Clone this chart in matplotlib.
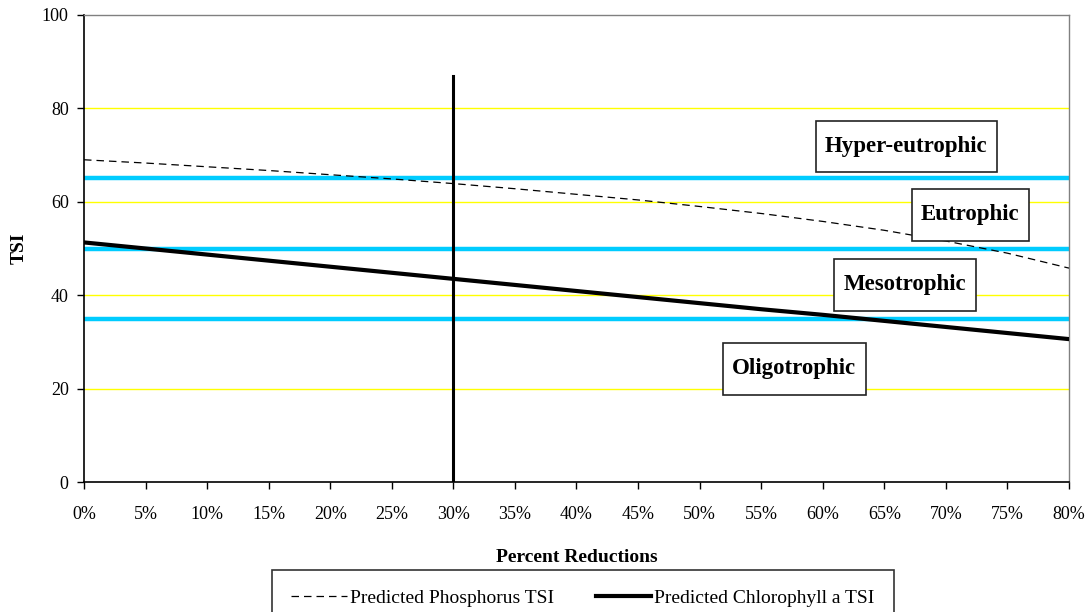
import matplotlib
matplotlib.use("Agg")
import matplotlib.pyplot as plt
from matplotlib.path import Path
from matplotlib.ticker import FuncFormatter, MultipleLocator

plt.rcParams['font.family'] = ['Liberation Serif', 'DejaVu Serif']

reductions = [0, 5, 10, 15, 20, 25, 30, 35, 40, 45, 50, 55, 60, 65, 70, 75, 80]
phosphorus_tsi = [69.0, 68.3, 67.5, 66.7, 65.8, 64.9, 63.9, 62.8, 61.6, 60.4, 59.0,
                  57.5, 55.8, 53.9, 51.6, 49.0, 45.8]
chlorophyll_tsi = [51.3, 50.0, 48.7, 47.4, 46.1, 44.8, 43.5, 42.2, 40.9, 39.6, 38.3,
                   37.0, 35.8, 34.5, 33.2, 31.9, 30.6]
class_bounds = [35, 50, 65]
target_reduction = 30
target_line_top = 87
class_labels = ["Hyper-eutrophic", "Eutrophic", "Mesotrophic", "Oligotrophic"]
class_label_x = [66.8, 72.0, 66.7, 57.7]
class_label_y = [71.8, 57.2, 42.2, 24.2]


def make_box(px, py):
    def box(x0, y0, width, height, mutation_size):
        padx = px * mutation_size
        pady = py * mutation_size
        xa, ya = x0 - padx, y0 - pady
        xb, yb = x0 + width + padx, y0 + height + pady
        return Path([(xa, ya), (xb, ya), (xb, yb), (xa, yb), (xa, ya)], closed=True)
    return box


fig = plt.figure(figsize=(10.88, 6.12), dpi=100)
ax = fig.add_axes([0.0772, 0.2124, 0.9053, 0.7631])

for yv in [20, 40, 60, 80]:
    ax.axhline(yv, color='#FFFF00', lw=1.0, zorder=1)
for yb in class_bounds:
    ax.axhline(yb, color='#00CCFF', lw=3.2, zorder=2)

ax.plot(reductions, phosphorus_tsi, color='black', lw=0.9, dashes=(6, 4),
        label='Predicted Phosphorus TSI', zorder=3)
ax.plot(reductions, chlorophyll_tsi, color='black', lw=3.0,
        label='Predicted Chlorophyll a TSI', zorder=3)
ax.plot([target_reduction, target_reduction], [0, target_line_top], color='black',
        lw=2.2, zorder=4)

for lab, xv, yv in zip(class_labels, class_label_x, class_label_y):
    ax.text(xv, yv, lab, ha='center', va='center', fontsize=16.5, fontweight='bold',
            zorder=5,
            bbox=dict(boxstyle=make_box(0.42, 0.66), fc='white', ec='#222222', lw=1.2))

ax.set_xlim(0, 80)
ax.set_ylim(0, 100)
ax.xaxis.set_major_locator(MultipleLocator(5))
ax.yaxis.set_major_locator(MultipleLocator(20))
ax.xaxis.set_major_formatter(FuncFormatter(lambda v, p: f"{int(round(v))}%"))
ax.tick_params(direction='out', length=5, width=1, labelsize=13, colors='black')
ax.tick_params(axis='x', pad=12)
ax.tick_params(axis='y', pad=6)
for s in ['left', 'bottom']:
    ax.spines[s].set_color('black')
    ax.spines[s].set_linewidth(1.2)
for s in ['top', 'right']:
    ax.spines[s].set_color('#808080')
    ax.spines[s].set_linewidth(1.0)

ax.set_xlabel('Percent Reductions', fontsize=14, fontweight='bold', labelpad=19)
ax.set_ylabel('TSI', fontsize=14, fontweight='bold', labelpad=10)

leg = fig.legend(loc='upper left', bbox_to_anchor=(272/1088, (612-570)/612),
                 ncol=2, fontsize=14, frameon=True, fancybox=False,
                 edgecolor='black', handlelength=2.85, handletextpad=0.15,
                 borderpad=1.0, borderaxespad=0.0, columnspacing=2.15)
leg.get_frame().set_linewidth(1.2)

fig.savefig('out.png', dpi=100, facecolor='white')
